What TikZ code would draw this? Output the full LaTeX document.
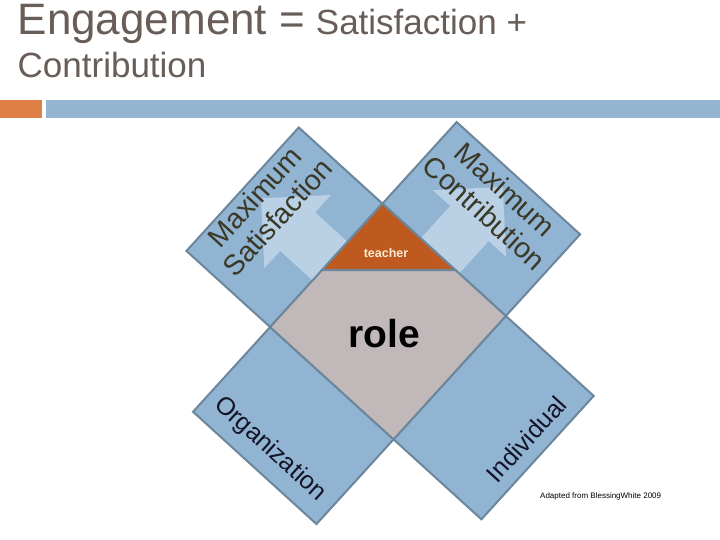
\documentclass[tikz,border=0pt]{standalone}
\usepackage{fontspec}
\setmainfont{Liberation Sans}
\usetikzlibrary{calc}
\definecolor{titlecol}{RGB}{105,93,88}
\definecolor{barorange}{RGB}{222,128,70}
\definecolor{barblue}{RGB}{148,180,208}
\definecolor{panelblue}{RGB}{146,180,211}
\definecolor{panelline}{RGB}{108,134,155}
\definecolor{arrowblue}{RGB}{186,208,228}
\definecolor{rolegrey}{RGB}{193,185,185}
\definecolor{teacherorange}{RGB}{190,90,32}
\definecolor{teachertext}{RGB}{250,236,210}
\definecolor{toplabel}{RGB}{58,56,38}
\definecolor{botlabel}{RGB}{20,20,40}
\begin{document}
\begin{tikzpicture}[x=1pt,y=-1pt,
  panel/.style={fill=panelblue,draw=panelline,line width=2pt,line join=miter},
  bigarrow/.style={fill=arrowblue},
  toplbl/.style={inner sep=0pt,align=center,text=toplabel,font=\fontsize{28.5}{31}\selectfont},
  botlbl/.style={inner sep=0pt,text=botlabel,font=\fontsize{25}{27}\selectfont},
  titletext/.style={inner sep=0pt,anchor=base west,text=titlecol}]
\useasboundingbox (0,0) rectangle (720,540);
\fill[white] (0,0) rectangle (720,540);
% title
\node[titletext] (title1) at (17.5,34.5) {{\fontsize{44}{44}\selectfont Engagement =}\hspace{8pt} {\fontsize{35}{35}\selectfont Satisfaction +}};
\node[titletext,font=\fontsize{35}{35}\selectfont] (title2) at (17.5,78) {Contribution};
% bars
\fill[barorange] (0,100) rectangle (42,118);
\fill[barblue] (46,100) rectangle (720,118);
% diagram
\begin{scope}[shift={(388,321.5)},rotate=2.7]
  \coordinate (T) at (0,-118);
  \coordinate (R) at (118,0);
  \coordinate (B) at (0,118);
  \coordinate (L) at (-118,0);
  \coordinate (TLa) at (-80,-198);
  \coordinate (TLb) at (-198,-80);
  \coordinate (TRa) at (78,-196);
  \coordinate (TRb) at (196,-78);
  \coordinate (BRa) at (202,84);
  \coordinate (BRb) at (84,202);
  \coordinate (BLa) at (-199,81);
  \coordinate (BLb) at (-81,199);
  \draw[panel] (L) -- (T) -- (TLa) -- (TLb) -- cycle;
  \draw[panel] (T) -- (TRa) -- (TRb) -- (R) -- cycle;
  \draw[panel] (R) -- (BRa) -- (BRb) -- (B) -- cycle;
  \draw[panel] (B) -- (BLb) -- (BLa) -- (L) -- cycle;
  % arrows
  \fill[bigarrow] (-121,-129) -- (-51,-129) -- (-67.6,-112.4) -- (-36.6,-81.4)
     -- (-73.4,-44.6) -- (-104.4,-75.6) -- (-121,-59) -- cycle;
  \fill[bigarrow] (121,-129) -- (51,-129) -- (67.6,-112.4) -- (36.6,-81.4)
     -- (73.4,-44.6) -- (104.4,-75.6) -- (121,-59) -- cycle;
  % centre diamond
  \draw[panel,fill=rolegrey] (T) -- (R) -- (B) -- (L) -- cycle;
\end{scope}
\coordinate (tl) at ($(T)!0.538!(L)$);
\coordinate (tr) at ($(T)!0.591!(R)$);
\draw[fill=teacherorange,draw=panelline,line width=2pt,line join=miter] (T) -- (tr) -- (tl) -- cycle;
% labels
\node[toplbl,rotate=47.7] (sat) at (266,207) {Maximum\\Satisfaction};
\node[toplbl,rotate=-42.3] (con) at (495,201) {Maximum\\Contribution};
\node[botlbl,rotate=-42.3] (org) at (270,449) {Organization};
\node[botlbl,rotate=47.7] (ind) at (526,439) {Individual};
\node[inner sep=0pt,anchor=base,font=\fontsize{39}{39}\selectfont\bfseries] (role) at (384,347) {role};
\node[inner sep=0pt,anchor=base,text=teachertext,font=\fontsize{12.5}{13}\selectfont\bfseries] (teacher) at (386,258) {teacher};
\node[inner sep=0pt,anchor=base west,font=\fontsize{8}{9}\selectfont] (src) at (540,498) {Adapted from BlessingWhite 2009};
\end{tikzpicture}
\end{document}
